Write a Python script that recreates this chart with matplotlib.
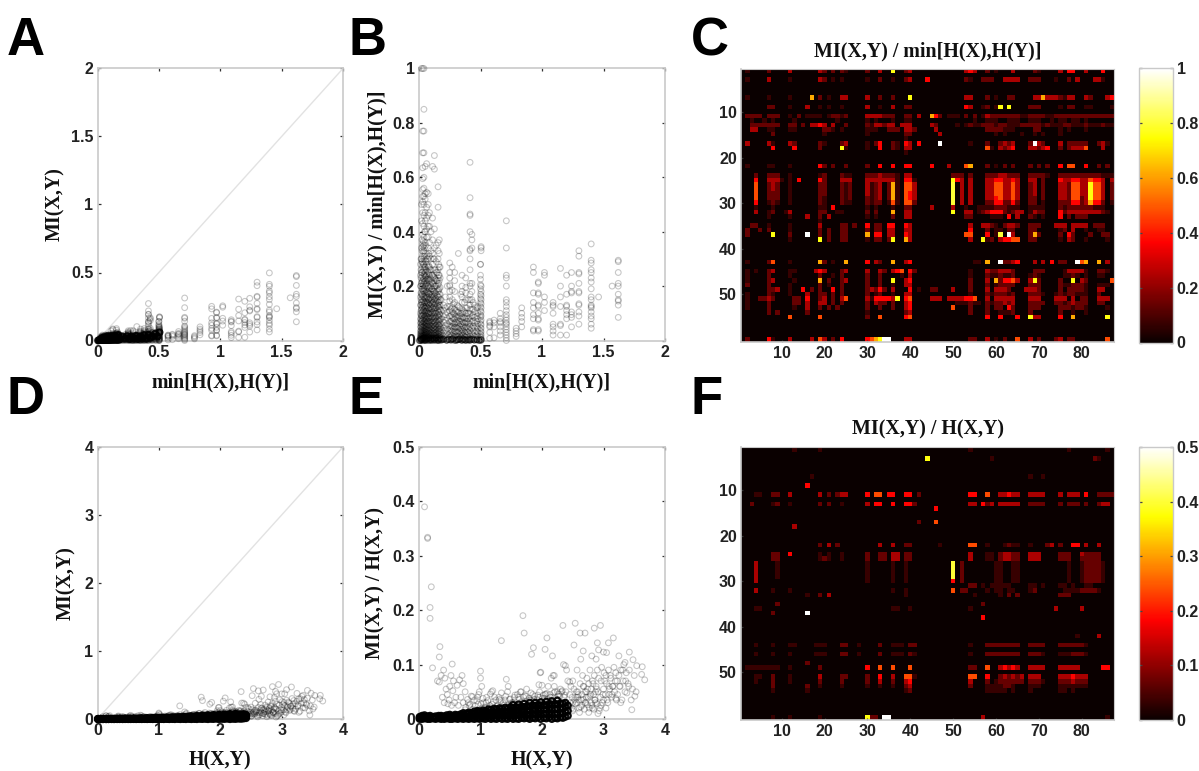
import numpy as np
import matplotlib
matplotlib.use("Agg")
import matplotlib.pyplot as plt

W, H = 1199, 771

# ---- panel C: colour levels (hex digit index into LEVELS), one string per row, 10 columns per block
c_rows = [
"0100002000 0300000032 0202100002 0030070023 0000000000 0034300201 0003000021 0000304400 3000400",
"",
"0100003000 0100000032 0101000001 0020010023 0004000000 0021002220 0333300222 0001002030 0033100",
"",
"",
"",
"0100001000 0100006020 1003300003 0020020007 0000000000 0033000201 0022000033 6333213300 3200034",
"",
"0000002200 0100030010 1001000003 0010030022 0000000000 0043001201 7070000222 0000102200 1100001",
"",
"0222202220 0102011110 1221200003 3332220022 0300642011 1020201322 2222211222 2112222222 2222222",
"0010010100 0010000000 0010000001 0100010011 0000000000 0000100111 0011100111 0010110110 1000000",
"0022222220 0220203343 0300200002 1332330333 0000320000 1012112221 2211122222 1211122111 2111211",
"0033001100 0110000002 2101000001 1100222033 2000030000 0000000222 2111000022 0000101000 1000000",
"0000000200 0000000001 0000000001 0000000022 0000003000 0000000001 0100010010 1000100000 0000000",
"0000000000 0000000000 0000000000 0000000010",
"0300003100 0320000021 0002300001 0240021043 040000a000 0001000200 23230002a3 2000302222 2002310",
"0000000400 0040000020 0007100001 0040021033 0000000000 0000000510 3234000332 3400202333 5000300",
"0000000000 0000000000 0000000000 0000000010",
"",
"",
"0100001100 0100000042 0200200002 0040040044 0000400030 0056000201 0202000202 0200405500 4002020",
"",
"0002002220 0100000012 0002110002 2232221033 0000000002 2202000222 3322200222 2100222222 2222111",
"0004003331 0104000042 0003330003 3333331044 1000000007 4303000334 4334300330 2000433443 3544303",
"0005002320 0100000022 0002120003 1230261055 3000000008 0303000335 5335300230 2000332553 3755302",
"0005002320 0100000022 0002120003 1230261055 3000000008 0303000335 5335300230 2000332553 3755302",
"0005002220 0100000022 0002120003 1230261054 3000000008 0303000335 5335300230 2000332553 3755302",
"0005002220 0100000021 0002120002 1230261054 3000000008 0303000334 5335300220 2000332552 3755302",
"0004001210 0100000021 0002110002 1220151055 2000000008 0303000224 4224200220 1000222442 3644201",
"0001000100 0000000011 0400000001 0100010022 0000300003 0010011112 2211100111 1000212222 2211100",
"0003001200 1300000022 0011000002 0200060033 0000000007 0033012344 4212330132 2000423333 3333210",
"0000001000 0100030020 3000000001 0100020033 0000000000 0022000011 1040300210 1000402022 2000000",
"0000000000 0000000010",
"0022001000 0100000030 0002202004 0220440043 0000000000 0003003321 0233200222 0003330333 3022200",
"0200202000 0100000020 2002200002 0220330033 0000000000 0004000201 1022000220 0000120300 1001100",
"0200000700 02000a0020 2002200006 0440330043 0000000000 0055000401 80a3000262 0000204200 0200220",
"0000000000 0100000070 2002200001 0220270063 0000000000 0003007120 3445500220 0000103200 1000010",
"",
"",
"",
"",
"0100002500 0100000062 0100600004 0320060034 0000000000 0000110600 a223400030 30402200a5 6006030",
"",
"0101002300 0110000343 0002300003 0032034504 2000000000 0001000322 3332000022 2000013333 1002210",
"0100002000 0100000020 0102000002 0020000103 0000000000 0001000211 2112000121 0000011210 1001100",
"0100002300 0010000060 2002300002 0020070034 0000000000 0002000306 2445300372 0000200703 2000005",
"0200002000 0100000020 1002000002 0020010033 0000000000 0002000201 2222000222 0000211222 1001110",
"0000002230 0100402020 0402000002 3242030004 0100220003 0002000303 3320003332 0000202222 1003300",
"0100002100 0100030022 0202000002 0120010033 0000000000 0001000212 2212000222 1001212211 1002000",
"0100223200 0022040023 0203500003 1444437045 0000333033 3344500303 3333000333 0003330302 2003330",
"0100002000 0022030033 0202000002 0322020034 0000000000 1112110212 2323000222 2002212322 2002200",
"0100002000 0010030020 2020000002 0020020034 0000000005 0002000202 2042000222 0000222122 1000010",
"0000002020 0000020000 0000000001 0000000023 0000000000 0002000200 1112000200 0000200100 1000000",
"0000000000 0500000050 0000000002 0050000045 0000000000 0000000400 4000400733 0000400600 0000070",
"",
"",
"",
"",
"0200004100 0300003053 0204000004 567aa00033 0000000000 0002200301 0200500302 0002302200 0000050",
]

# ---- panel F: same level scale, top of the colour range is 0.5
f_rows = [
"0000000000 0010000010 0000000000 0000000000 0000000000 0001000000 0000000000 0000001000 0000010",
"",
"0000000000 0000000000 0000000000 0000000000 0007000000 0000000010 0000000000 0000000000 0021000",
"",
"",
"",
"0000000000 0000001000 0000000000 0000000000 0000000000 0000000000 0000000100 1000000000 0000000",
"",
"0000000000 0000040000 0000000000 0000000000",
"",
"0001100220 0300000030 2023300004 0550440044 0200000000 0004400500 3343300333 3000303330 4002222",
"",
"0020000120 0100000020 2001000003 0440040044 2000000000 0003304230 3333300222 2000202220 2002330",
"0000000000 0000000000 0000000000 0000000000 0000040000",
"",
"",
"0000000000 0000000000 0000000000 0000000000 0200050000",
"0000000000 0030000000",
"",
"",
"",
"0000000000 0000000020 3020000000 0030030022 0000001000 0005500100 0121100100 0230200440 3003000",
"",
"0000000220 0400000010 1001000002 0022033022 0000000000 0003000110 2332200333 0000222003 2222000",
"0000000220 0000000012 1001000002 0022033022 0000000000 0003000110 2332200333 0000222002 2222000",
"0003000010 0000000000 0000000001 0000010010 0000000008 0200000001 1001100000 0000001001 2222100",
"0003000010 0000000000 0000000001 0000010010 0000000008 0200000001 1001100000 0000001001 2222100",
"0003000010 0000000000 0000000001 0000010010 0000000008 0200000001 1001100000 0000001001 2222100",
"0003000010 0000000000 0000000001 0000010010 0000000008 0200000001 1001100000 0000001001 2222100",
"0003000000 0000000000 0000000001 0000010010 0000000004 0200000001 1001100000 0000001001 2222100",
"0000000000 0000000000 0000000000 0000000000 0000000000 0002201011 1110000110 1000110100 1100000",
"0003000100 0100000000 0000000000 0000010010 0000000005 0220000101 1011000120 0000011112 2221000",
"0000000000 0000010020 3000000000 0000000010 0000000000 0000100000 1020200000 0000222000 0000000",
"",
"0000000020 0000000000 0000000000 0000000000 0000000000 0000002000 0000000000 0000000000 0000000",
"0001100000 0000000000 0000000000 0000011001 0000000000 0001000000 0000000000 0003000003 0000000",
"0000000200 00000a0000 0000000000 0000000000",
"0000000000 0000000000 0000000000 0000000000 0000000000 0000004000",
"",
"",
"",
"0000000000 0000000000 0000000000 0000000000 0000000000 0000000000 0000000000 0000000010 0003000",
"",
"0001000100 0110000111 0002200100 0020011102 2000000000 0001000222 2222200222 2000222222 1000000",
"",
"0001000100 0100000111 0002200100 0020011102 1000000000 0001000222 2222200222 1000111222 1000000",
"",
"0000000000 0000020000",
"0111111110 0100000020 0000000004 0050050005 0000000000 0002200500 3434300333 3000333330 0000440",
"",
"0001100200 0100000030 0002200002 0040030055 1000000000 0005500400 2323230333 0000333433 3000000",
"0001000200 0100000020 0002000002 0030020034 0000000000 0003000201 2222220222 1000222322 2000000",
"0000000200 0000020010 0001000001 0010010023 0000000000 0002000111 1221000111 0000111111 1000000",
"0000000100 0000010000 0000000000 0000000012 0000000000 0000000111 1101000100 0000110100 0000000",
"",
"",
"",
"",
"",
"0000000100 0100000010 0000000007 220aa00000 0000000000 0000003000 0000000000 0000000000 0000010",
]
LEVELS = [0, 0.07, 0.14, 0.24, 0.37, 0.48, 0.62, 0.76, 0.8, 0.9, 1.0]

# ---- panel B: minimum-entropy columns and the ratio values seen in each
b_cols_x = [0.012, 0.02, 0.03, 0.04, 0.05, 0.062, 0.075, 0.085, 0.098, 0.11, 0.125, 0.14, 0.155, 0.165, 0.18,
            0.25, 0.27, 0.29, 0.32, 0.35, 0.38, 0.415, 0.43, 0.50, 0.505, 0.575, 0.61, 0.66, 0.71, 0.79, 0.835,
            0.93, 0.97, 1.02, 1.09, 1.15, 1.2, 1.24, 1.3, 1.40, 1.46, 1.57, 1.62,
            0.016, 0.025, 0.035, 0.045, 0.056, 0.068, 0.08, 0.092, 0.104, 0.118, 0.132, 0.148, 0.16, 0.172,
            0.2, 0.215, 0.23, 0.26, 0.28, 0.3, 0.31, 0.33, 0.34, 0.36, 0.37, 0.39, 0.4, 0.44, 0.45, 0.47, 0.48]
b_cols_y = [
 [0.0, 0.002, 0.005, 0.008, 0.012, 0.018, 0.025, 0.035, 0.05, 0.065, 0.08, 0.1, 0.13, 0.16, 0.2, 0.24, 0.28],
 [0.0, 0.003, 0.006, 0.01, 0.015, 0.022, 0.03, 0.04, 0.055, 0.07, 0.09, 0.115, 0.14, 0.17, 0.21, 0.25, 0.3, 0.34, 0.44, 0.5, 1.0],
 [0.0, 0.004, 0.009, 0.014, 0.02, 0.028, 0.038, 0.05, 0.06, 0.075, 0.09, 0.105, 0.12, 0.135, 0.15, 0.17, 0.185, 0.2, 0.22, 0.235, 0.27, 0.285, 0.31, 0.345, 0.355, 0.39, 0.43, 0.47, 0.51, 0.53, 0.555, 0.595, 0.635, 0.69, 0.77, 1.0],
 [0.0, 0.003, 0.007, 0.012, 0.019, 0.026, 0.034, 0.045, 0.056, 0.068, 0.082, 0.095, 0.11, 0.125, 0.14, 0.16, 0.18, 0.19, 0.21, 0.225, 0.245, 0.26, 0.28, 0.3, 0.33, 0.35, 0.38, 0.42, 0.46, 0.5, 0.53, 0.56, 0.6, 0.69, 0.77, 0.85, 1.0],
 [0.0, 0.005, 0.011, 0.017, 0.024, 0.032, 0.042, 0.053, 0.066, 0.08, 0.092, 0.107, 0.12, 0.14, 0.155, 0.175, 0.2, 0.22, 0.235, 0.25, 0.27, 0.295, 0.32, 0.36, 0.4, 0.44, 0.47, 0.52, 0.54, 0.64],
 [0.0, 0.006, 0.013, 0.021, 0.03, 0.04, 0.052, 0.063, 0.078, 0.09, 0.108, 0.125, 0.14, 0.16, 0.18, 0.21, 0.225, 0.24, 0.28, 0.31, 0.38, 0.41, 0.45, 0.49, 0.545, 0.65],
 [0.0, 0.004, 0.01, 0.016, 0.025, 0.036, 0.047, 0.06, 0.072, 0.085, 0.1, 0.118, 0.135, 0.15, 0.175, 0.2, 0.225, 0.25, 0.27, 0.3, 0.34, 0.38, 0.42, 0.46, 0.5, 0.54],
 [0.0, 0.007, 0.015, 0.023, 0.033, 0.045, 0.058, 0.07, 0.083, 0.098, 0.112, 0.13, 0.148, 0.17, 0.19, 0.215, 0.24, 0.27, 0.31, 0.36, 0.42, 0.47],
 [0.0, 0.005, 0.012, 0.02, 0.028, 0.038, 0.05, 0.065, 0.08, 0.095, 0.11, 0.125, 0.145, 0.16, 0.18, 0.2, 0.225, 0.26, 0.3, 0.33, 0.4],
 [0.0, 0.006, 0.014, 0.024, 0.034, 0.046, 0.06, 0.073, 0.088, 0.104, 0.12, 0.14, 0.155, 0.17, 0.19, 0.21, 0.24, 0.28, 0.32, 0.37, 0.45, 0.64],
 [0.0, 0.004, 0.009, 0.018, 0.027, 0.04, 0.052, 0.067, 0.082, 0.1, 0.115, 0.13, 0.15, 0.165, 0.18, 0.2, 0.23, 0.26, 0.3, 0.34, 0.41, 0.63, 0.68],
 [0.0, 0.005, 0.012, 0.02, 0.03, 0.043, 0.057, 0.07, 0.085, 0.1, 0.12, 0.135, 0.15, 0.17, 0.2, 0.22, 0.25, 0.29, 0.35],
 [0.0, 0.007, 0.015, 0.025, 0.035, 0.048, 0.06, 0.075, 0.09, 0.105, 0.125, 0.14, 0.16, 0.18, 0.205, 0.23, 0.26, 0.3, 0.33, 0.36, 0.49, 0.565],
 [0.0, 0.006, 0.013, 0.022, 0.032, 0.044, 0.055, 0.07, 0.083, 0.097, 0.115, 0.13, 0.145, 0.17, 0.19, 0.22, 0.24, 0.27, 0.32, 0.37],
 [0.0, 0.004, 0.01, 0.018, 0.028, 0.04, 0.055, 0.08, 0.11, 0.15],
 [0.002, 0.012, 0.025, 0.04, 0.055, 0.07, 0.09, 0.11, 0.125, 0.145, 0.16, 0.18, 0.2, 0.205, 0.23, 0.25, 0.285],
 [0.005, 0.018, 0.033, 0.05, 0.065, 0.085, 0.105, 0.12, 0.15, 0.185, 0.27],
 [0.0, 0.01, 0.022, 0.036, 0.05, 0.062, 0.078, 0.095, 0.115, 0.14, 0.18, 0.22, 0.25],
 [0.003, 0.015, 0.03, 0.045, 0.06, 0.075, 0.09, 0.105, 0.125, 0.32],
 [0.0, 0.008, 0.018, 0.028, 0.04, 0.055, 0.07, 0.085, 0.1, 0.115, 0.14, 0.16, 0.18, 0.2, 0.24],
 [0.002, 0.012, 0.024, 0.038, 0.05, 0.065, 0.08, 0.1, 0.12, 0.15, 0.175, 0.195, 0.23],
 [0.0, 0.006, 0.015, 0.025, 0.037, 0.05, 0.06, 0.072, 0.085, 0.1, 0.115, 0.13, 0.15, 0.17, 0.2, 0.21, 0.26, 0.3, 0.33, 0.335, 0.4, 0.46, 0.465, 0.525, 0.655],
 [0.01, 0.025, 0.045, 0.07, 0.09, 0.115, 0.15, 0.18, 0.21, 0.34, 0.37, 0.39],
 [0.0, 0.006, 0.014, 0.024, 0.035, 0.047, 0.06, 0.07, 0.085, 0.095, 0.11, 0.125, 0.14, 0.155, 0.17, 0.19, 0.205, 0.225, 0.24, 0.28, 0.28],
 [0.0, 0.01, 0.02, 0.032, 0.045, 0.058, 0.075, 0.09, 0.105, 0.12, 0.135, 0.15, 0.165, 0.18, 0.2, 0.33, 0.34, 0.345],
 [0.008, 0.03, 0.05, 0.055, 0.065, 0.07],
 [0.01, 0.05, 0.065, 0.075],
 [0.02, 0.035, 0.05, 0.065, 0.07, 0.08, 0.1],
 [0.0, 0.01, 0.02, 0.03, 0.04, 0.05, 0.06, 0.065, 0.075, 0.085, 0.095, 0.11, 0.125, 0.14, 0.15, 0.2, 0.23, 0.24, 0.34, 0.44],
 [0.015, 0.025, 0.035, 0.045],
 [0.05, 0.07, 0.085, 0.1, 0.12],
 [0.035, 0.04, 0.08, 0.095, 0.12, 0.14, 0.175, 0.25, 0.27],
 [0.035, 0.04, 0.075, 0.08, 0.1, 0.125, 0.13, 0.17, 0.175, 0.21, 0.215],
 [0.11, 0.14, 0.16, 0.24, 0.25],
 [0.02, 0.035, 0.05, 0.06, 0.1, 0.125, 0.13, 0.14],
 [0.02, 0.055, 0.06, 0.125, 0.16, 0.2, 0.265],
 [0.02, 0.08, 0.095, 0.11, 0.125, 0.13, 0.17, 0.24],
 [0.05, 0.085, 0.095, 0.105, 0.175, 0.18, 0.2, 0.25],
 [0.06, 0.09, 0.105, 0.13, 0.135, 0.175, 0.18, 0.21, 0.245, 0.25, 0.31, 0.33],
 [0.045, 0.06, 0.08, 0.09, 0.105, 0.12, 0.125, 0.13, 0.15, 0.16, 0.19, 0.215, 0.23, 0.25, 0.26, 0.285, 0.295, 0.355],
 [0.16],
 [0.2],
 [0.085, 0.13, 0.145, 0.15, 0.17, 0.2, 0.21, 0.25, 0.29, 0.295],
 [0.001, 0.008, 0.016, 0.026, 0.036, 0.05, 0.063, 0.077, 0.093, 0.11, 0.13, 0.15, 0.175, 0.2, 0.23, 0.26, 0.3],
 [0.002, 0.006, 0.013, 0.023, 0.033, 0.047, 0.061, 0.074, 0.09, 0.104, 0.122, 0.142, 0.165, 0.19, 0.215, 0.25, 0.29, 0.33, 0.37],
 [0.001, 0.007, 0.016, 0.027, 0.039, 0.052, 0.066, 0.081, 0.097, 0.112, 0.128, 0.146, 0.162, 0.182, 0.205, 0.228, 0.255, 0.28, 0.325, 0.365],
 [0.002, 0.009, 0.018, 0.029, 0.041, 0.055, 0.07, 0.086, 0.102, 0.118, 0.136, 0.153, 0.17, 0.195, 0.218, 0.24, 0.27, 0.31, 0.34, 0.4],
 [0.001, 0.008, 0.015, 0.026, 0.037, 0.05, 0.064, 0.079, 0.094, 0.11, 0.127, 0.145, 0.165, 0.185, 0.21, 0.235, 0.26, 0.29, 0.35],
 [0.002, 0.01, 0.02, 0.031, 0.044, 0.058, 0.072, 0.088, 0.103, 0.121, 0.14, 0.158, 0.178, 0.2, 0.225, 0.255, 0.3],
 [0.001, 0.007, 0.016, 0.027, 0.04, 0.054, 0.068, 0.084, 0.099, 0.117, 0.133, 0.152, 0.172, 0.193, 0.22, 0.245, 0.275, 0.32],
 [0.002, 0.009, 0.019, 0.03, 0.042, 0.056, 0.071, 0.086, 0.103, 0.12, 0.138, 0.156, 0.18, 0.205, 0.23, 0.26],
 [0.001, 0.008, 0.017, 0.028, 0.04, 0.053, 0.067, 0.082, 0.098, 0.116, 0.134, 0.15, 0.168, 0.19, 0.215, 0.24],
 [0.002, 0.01, 0.02, 0.032, 0.045, 0.059, 0.074, 0.09, 0.107, 0.124, 0.142, 0.16, 0.182, 0.21, 0.235, 0.3],
 [0.001, 0.008, 0.017, 0.028, 0.04, 0.053, 0.068, 0.084, 0.1, 0.118, 0.135, 0.155, 0.175, 0.2, 0.225, 0.26],
 [0.002, 0.01, 0.021, 0.033, 0.046, 0.06, 0.076, 0.092, 0.11, 0.128, 0.146, 0.165, 0.19, 0.22, 0.25],
 [0.001, 0.009, 0.018, 0.03, 0.042, 0.056, 0.071, 0.087, 0.105, 0.122, 0.14, 0.16, 0.185, 0.21, 0.24, 0.28],
 [0.002, 0.011, 0.022, 0.035, 0.048, 0.062, 0.078, 0.095, 0.113, 0.13, 0.15, 0.17, 0.195, 0.23, 0.27],
 [0.003, 0.016, 0.03, 0.047, 0.066, 0.087, 0.11, 0.13],
 [0.006, 0.02, 0.037, 0.055, 0.074, 0.095, 0.12, 0.16],
 [0.002, 0.014, 0.028, 0.043, 0.061, 0.083, 0.104, 0.125, 0.2],
 [0.005, 0.019, 0.036, 0.052, 0.07, 0.092, 0.116],
 [0.001, 0.013, 0.027, 0.044, 0.062, 0.08, 0.1, 0.135],
 [0.004, 0.017, 0.033, 0.05, 0.068, 0.088, 0.11],
 [0.002, 0.015, 0.03, 0.047, 0.065, 0.084, 0.103, 0.13],
 [0.006, 0.02, 0.035, 0.052, 0.07, 0.09, 0.12],
 [0.001, 0.012, 0.026, 0.042, 0.06, 0.08, 0.1, 0.17],
 [0.005, 0.018, 0.034, 0.05, 0.067, 0.085, 0.11],
 [0.002, 0.014, 0.029, 0.046, 0.063, 0.082, 0.105, 0.14],
 [0.004, 0.018, 0.033, 0.05, 0.07, 0.09, 0.12],
 [0.001, 0.013, 0.028, 0.045, 0.062, 0.08, 0.1, 0.15],
 [0.005, 0.02, 0.036, 0.053, 0.072, 0.093, 0.115, 0.14],
 [0.002, 0.015, 0.03, 0.047, 0.065, 0.085, 0.105, 0.13],
 [0.004, 0.018, 0.034, 0.052, 0.07, 0.09, 0.12],
 [0.001, 0.013, 0.028, 0.044, 0.06, 0.08, 0.1, 0.125],
]

# bottom band of panels A and B: x with MI (A) and ratio (B) near zero
foot_x = [0.005, 0.02, 0.035, 0.05, 0.065, 0.08, 0.095, 0.11, 0.125, 0.14, 0.155, 0.17, 0.185, 0.2, 0.225, 0.24, 0.26, 0.275,
          0.3, 0.315, 0.33, 0.35, 0.365, 0.38, 0.4, 0.415, 0.43, 0.45, 0.47, 0.49, 0.505]
foot_mi = [0.0, 0.005, 0.012, 0.02, 0.01, 0.03, 0.018, 0.033, 0.012, 0.035, 0.02, 0.04, 0.012, 0.03, 0.015, 0.032, 0.012, 0.028,
           0.015, 0.034, 0.012, 0.03, 0.016, 0.04, 0.014, 0.042, 0.02, 0.03, 0.05, 0.03, 0.06]
foot_ratio = [0.0, 0.004, 0.008, 0.002, 0.006, 0.01, 0.003, 0.007, 0.004, 0.009, 0.002, 0.006, 0.003, 0.005, 0.001, 0.004, 0.002, 0.006,
              0.001, 0.003, 0.005, 0.002, 0.004, 0.001, 0.003, 0.002, 0.004, 0.002, 0.003, 0.001, 0.003]

# ---- panel E: joint entropy and ratio
e_band_x = [0.01, 0.05, 0.09, 0.14, 0.18, 0.23, 0.27, 0.32, 0.36, 0.41, 0.45, 0.5, 0.54, 0.59, 0.63, 0.68, 0.72, 0.77, 0.81, 0.86,
            0.9, 0.95, 0.99, 1.04, 1.08, 1.13, 1.17, 1.22, 1.26, 1.31, 1.35, 1.4, 1.44, 1.49, 1.53, 1.58, 1.62, 1.67, 1.71, 1.76,
            1.8, 1.85, 1.89, 1.94, 1.98, 2.03, 2.07, 2.12, 2.16, 2.21, 2.25, 2.3, 2.34, 2.38, 2.42]
e_band_y = [
 [0, 0.002, 0.004], [0, 0.003, 0.006], [0.001, 0.004, 0.007], [0, 0.002, 0.005], [0, 0.003, 0.006], [0.001, 0.004], [0, 0.002, 0.005],
 [0.001, 0.003, 0.006], [0, 0.004, 0.006], [0, 0.002, 0.005], [0.001, 0.003, 0.007], [0, 0.004, 0.008], [0, 0.003, 0.006],
 [0.001, 0.005, 0.008], [0, 0.003, 0.007], [0.001, 0.005, 0.009], [0, 0.004, 0.008, 0.011], [0.001, 0.005, 0.01], [0, 0.004, 0.009, 0.012],
 [0.001, 0.006, 0.011], [0, 0.005, 0.01, 0.014], [0.001, 0.006, 0.011, 0.015], [0, 0.004, 0.009, 0.014], [0.001, 0.006, 0.012, 0.016],
 [0, 0.005, 0.01, 0.015], [0.002, 0.007, 0.012, 0.018], [0, 0.005, 0.011, 0.017], [0.001, 0.007, 0.013, 0.019], [0, 0.006, 0.012, 0.018],
 [0.002, 0.008, 0.014, 0.02], [0, 0.006, 0.013, 0.019], [0.001, 0.007, 0.014, 0.021], [0, 0.006, 0.012, 0.019], [0.002, 0.008, 0.015, 0.022],
 [0, 0.006, 0.013, 0.02, 0.026], [0.001, 0.008, 0.015, 0.022], [0, 0.007, 0.014, 0.021, 0.027], [0.002, 0.009, 0.016, 0.023],
 [0.001, 0.007, 0.014, 0.022, 0.028], [0.002, 0.009, 0.017, 0.024], [0, 0.007, 0.015, 0.023, 0.03], [0.002, 0.01, 0.017, 0.025],
 [0.001, 0.008, 0.016, 0.024, 0.03], [0.003, 0.011, 0.019, 0.026], [0, 0.008, 0.016, 0.025, 0.031], [0.002, 0.01, 0.018, 0.026],
 [0.001, 0.009, 0.017, 0.025, 0.032], [0.003, 0.011, 0.02, 0.028], [0, 0.008, 0.017, 0.026, 0.033], [0.002, 0.01, 0.019, 0.028],
 [0.001, 0.009, 0.018, 0.027, 0.034], [0.003, 0.011, 0.02, 0.029], [0.002, 0.01, 0.019, 0.028], [0.004, 0.013, 0.022, 0.03], [0.006, 0.015, 0.025],
]
e_x = [0.09, 0.14, 0.14, 0.2, 0.18, 0.18, 0.34, 0.33, 0.22, 0.54, 1.69, 1.71, 1.34, 1.86, 1.83, 2.08, 2.05, 2.17, 2.34, 2.54, 2.52,
       2.62, 2.7, 2.67, 2.85, 2.95, 2.9, 3.08, 3.16, 2.92, 3.0, 3.05, 2.88, 2.81, 3.25, 3.42, 3.35, 3.48, 3.54, 3.63, 3.62, 3.67, 3.46, 3.51, 3.38,
       0.3, 0.33, 0.36, 0.4, 0.42, 0.44, 0.38, 0.41, 0.46, 0.49, 0.5, 0.52, 0.55, 0.56, 0.58, 0.6, 0.62, 0.66, 0.7, 0.72, 0.68, 0.64, 0.53, 0.47, 0.75,
       0.8, 0.85, 0.9, 0.95, 1.0, 1.0, 1.02, 0.98, 1.05, 1.1, 1.15, 1.18, 1.2, 1.25, 1.3, 1.42, 1.45, 1.44, 1.4, 1.5, 1.55, 1.6, 1.65, 1.7, 1.75, 1.8,
       1.85, 1.9, 1.95, 2.0, 1.95, 1.97, 1.98, 2.05, 2.1, 2.15, 2.18, 2.2, 2.2, 2.25, 2.3, 2.35, 2.38, 2.4, 2.42, 2.45, 2.5,
       2.45, 2.47, 2.5, 2.52, 2.55, 2.57, 2.58, 2.6, 2.62, 2.63, 2.65, 2.66, 2.68, 2.7, 2.72, 2.73, 2.75, 2.76, 2.78, 2.8, 2.81, 2.82, 2.84, 2.85,
       2.87, 2.88, 2.9, 2.91, 2.92, 2.93, 2.95, 2.96, 2.97, 2.98, 3.0, 3.01, 3.03, 3.04, 3.05, 3.07, 3.08, 3.1, 3.12, 3.13, 3.15, 3.17, 3.18, 3.2, 3.22,
       3.23, 3.25, 3.27, 3.28, 3.3, 3.32, 3.33, 3.35, 3.37, 3.4, 3.42, 3.45, 3.47, 3.5, 3.53,
       2.48, 2.53, 2.56, 2.6, 2.64, 2.67, 2.71, 2.74, 2.77, 2.79, 2.83, 2.86, 2.89, 2.94, 2.99, 3.02, 3.06, 3.09, 3.11, 3.14, 3.19, 3.21, 3.26, 3.31, 3.36, 3.41,
       2.46, 2.5, 2.54, 2.58, 2.61, 2.65, 2.69, 2.72, 2.76, 2.8, 2.84, 2.87, 2.91, 2.96, 3.0, 3.04, 3.09, 3.15, 3.2, 3.28,
       0.72, 0.76, 0.79, 0.83, 0.87, 0.91, 0.94, 0.97, 1.01, 1.04, 1.07, 1.12, 1.16, 1.19, 1.23, 1.27, 1.31, 1.34, 1.37, 1.41, 1.46, 1.48, 1.52, 1.56, 1.59,
       1.63, 1.66, 1.69, 1.72, 1.77, 1.79, 1.82, 1.86, 1.88, 1.92, 1.96, 1.99, 2.02, 2.04, 2.08, 2.11, 2.13, 2.17, 2.21, 2.24, 2.27, 2.29, 2.33, 2.36, 2.39,
       0.75, 0.82, 0.88, 0.96, 1.03, 1.09, 1.14, 1.21, 1.28, 1.33, 1.39, 1.47, 1.53, 1.61, 1.68, 1.74, 1.81, 1.87, 1.93, 2.01, 2.06, 2.14, 2.19, 2.26, 2.32, 2.37,
       2.44, 2.49, 2.51, 2.56, 2.59, 2.63, 2.67, 2.7, 2.74, 2.78, 2.82, 2.86, 2.9]
e_y = [0.39, 0.334, 0.332, 0.243, 0.205, 0.185, 0.133, 0.114, 0.094, 0.101, 0.19, 0.158, 0.144, 0.131, 0.119, 0.149, 0.128, 0.116, 0.172, 0.176, 0.136,
       0.158, 0.158, 0.125, 0.167, 0.172, 0.14, 0.14, 0.149, 0.127, 0.123, 0.122, 0.11, 0.116, 0.116, 0.123, 0.104, 0.109, 0.098, 0.096, 0.082, 0.072, 0.017, 0.042, 0.048,
       0.07, 0.068, 0.08, 0.09, 0.075, 0.055, 0.04, 0.03, 0.045, 0.035, 0.06, 0.08, 0.052, 0.07, 0.03, 0.04, 0.062, 0.072, 0.08, 0.065, 0.04, 0.025, 0.025, 0.028, 0.05,
       0.03, 0.042, 0.035, 0.04, 0.088, 0.075, 0.06, 0.05, 0.03, 0.04, 0.025, 0.05, 0.052, 0.035, 0.04, 0.073, 0.06, 0.05, 0.035, 0.03, 0.04, 0.045, 0.05, 0.04, 0.055, 0.035,
       0.045, 0.03, 0.04, 0.062, 0.063, 0.085, 0.086, 0.045, 0.06, 0.075, 0.08, 0.08, 0.06, 0.05, 0.055, 0.1, 0.098, 0.09, 0.07, 0.068, 0.07,
       0.045, 0.06, 0.03, 0.055, 0.04, 0.09, 0.05, 0.035, 0.065, 0.11, 0.045, 0.08, 0.06, 0.03, 0.05, 0.075, 0.04, 0.065, 0.09, 0.055, 0.025, 0.07, 0.045, 0.08,
       0.03, 0.06, 0.09, 0.05, 0.075, 0.015, 0.04, 0.07, 0.095, 0.03, 0.055, 0.085, 0.045, 0.08, 0.065, 0.03, 0.09, 0.055, 0.075, 0.04, 0.06, 0.095, 0.05, 0.085, 0.07,
       0.045, 0.08, 0.06, 0.09, 0.035, 0.07, 0.1, 0.05, 0.085, 0.065, 0.09, 0.035, 0.055, 0.08, 0.05,
       0.02, 0.035, 0.05, 0.02, 0.035, 0.06, 0.03, 0.055, 0.02, 0.045, 0.065, 0.035, 0.055, 0.02, 0.045, 0.07, 0.035, 0.06, 0.08, 0.045, 0.07, 0.035, 0.06, 0.09, 0.07, 0.06,
       0.03, 0.015, 0.028, 0.04, 0.012, 0.025, 0.018, 0.04, 0.012, 0.03, 0.018, 0.05, 0.01, 0.025, 0.035, 0.02, 0.045, 0.06, 0.038, 0.03,
       0.03, 0.022, 0.036, 0.027, 0.041, 0.024, 0.033, 0.045, 0.028, 0.038, 0.022, 0.034, 0.046, 0.027, 0.04, 0.024, 0.036, 0.048, 0.03, 0.042, 0.025, 0.037, 0.03, 0.044, 0.026,
       0.036, 0.05, 0.03, 0.043, 0.027, 0.038, 0.048, 0.032, 0.042, 0.036, 0.05, 0.032, 0.044, 0.038, 0.047, 0.034, 0.045, 0.04, 0.05, 0.036, 0.046, 0.042, 0.052, 0.04, 0.05,
       0.017, 0.025, 0.018, 0.027, 0.02, 0.03, 0.022, 0.032, 0.024, 0.034, 0.026, 0.036, 0.03, 0.04, 0.032, 0.042, 0.034, 0.036, 0.044, 0.038, 0.046, 0.04, 0.048, 0.042, 0.05, 0.044,
       0.022, 0.04, 0.018, 0.03, 0.045, 0.022, 0.036, 0.05, 0.026, 0.042, 0.02, 0.035, 0.028]

a_ticks = [0, 0.5, 1, 1.5, 2]
b_yticks = [0, 0.2, 0.4, 0.6, 0.8, 1]
d_ticks = [0, 1, 2, 3, 4]
e_yticks = [0, 0.1, 0.2, 0.3, 0.4, 0.5]
hm_xticks = [10, 20, 30, 40, 50, 60, 70, 80]
hm_yticks = [10, 20, 30, 40, 50]
cb1_ticks = [0, 0.2, 0.4, 0.6, 0.8, 1]
cb2_ticks = [0, 0.1, 0.2, 0.3, 0.4, 0.5]

SANS = "Liberation Sans"
SERIF = "Liberation Serif"
GREY = "#c9c9c9"
TICKFS = 11.5
LABFS = 14.4


def grid(rows, top):
    out = []
    for r in rows:
        s = r.replace(" ", "").ljust(87, "0")[:87]
        out.append([LEVELS[int(ch, 16)] * top for ch in s])
    return np.array(out)


def rect(l, t, r, b):
    return [l / W, 1 - b / H, (r - l) / W, (b - t) / H]


def fmt(v):
    return f"{v:g}"


def style(ax, xt, yt, size=TICKFS):
    for sp in ax.spines.values():
        sp.set_color(GREY)
        sp.set_linewidth(1.2)
    ax.set_xticks(xt, [fmt(v) for v in xt])
    ax.set_yticks(yt, [fmt(v) for v in yt])
    ax.tick_params(direction="in", length=2.2, width=0.9, color="#333333",
                   top=True, right=True, pad=3, labelcolor="#222222")
    for t in ax.get_xticklabels() + ax.get_yticklabels():
        t.set_fontfamily(SANS)
        t.set_fontweight("bold")
        t.set_fontsize(size)


def scatter(ax, x, y, alpha=0.22, lw=0.8):
    ax.scatter(x, y, s=17, facecolors="none", edgecolors="black", linewidths=lw,
               alpha=alpha, clip_on=False, zorder=3)


def label(ax, xl, yl, ylx):
    ax.set_xlabel(xl, family=SERIF, weight="bold", fontsize=LABFS, labelpad=9, color="#111111")
    ax.set_ylabel(yl, family=SERIF, weight="bold", fontsize=LABFS, color="#111111")
    ax.yaxis.set_label_coords(ylx, 0.5)


fig = plt.figure(figsize=(W / 100, H / 100), dpi=100)

bx = np.concatenate([[x] * len(ys) for x, ys in zip(b_cols_x, b_cols_y)])
by = np.concatenate(b_cols_y)
ex = np.array(e_x)
ey = np.array(e_y)
bandx = np.concatenate([[x] * len(ys) for x, ys in zip(e_band_x, e_band_y)])
bandy = np.concatenate(e_band_y)

# A: MI against min entropy
axA = fig.add_axes(rect(97.5, 68.5, 343, 340.5))
axA.plot([0, 2], [0, 2], color="#e2e2e2", lw=1)
scatter(axA, bx, by * bx)
scatter(axA, foot_x, foot_mi, alpha=0.9, lw=1.6)
axA.set_xlim(0, 2); axA.set_ylim(0, 2)
style(axA, a_ticks, a_ticks)
label(axA, "min[H(X),H(Y)]", "MI(X,Y)", -0.13)

# B: normalised by min entropy
axB = fig.add_axes(rect(419, 68.5, 665, 340.5))
scatter(axB, bx, by)
scatter(axB, foot_x, foot_ratio, alpha=0.6, lw=1.0)
axB.set_xlim(0, 2); axB.set_ylim(0, 1)
style(axB, a_ticks, b_yticks)
label(axB, "min[H(X),H(Y)]", "MI(X,Y) / min[H(X),H(Y)]", -0.13)

# D: MI against joint entropy
axD = fig.add_axes(rect(97.5, 447, 343, 719))
axD.plot([0, 4], [0, 4], color="#e2e2e2", lw=1)
scatter(axD, bandx, bandy * bandx, alpha=0.95, lw=1.8)
scatter(axD, ex, ey * ex)
axD.set_xlim(0, 4); axD.set_ylim(0, 4)
style(axD, d_ticks, d_ticks)
label(axD, "H(X,Y)", "MI(X,Y)", -0.087)

# E: normalised by joint entropy
axE = fig.add_axes(rect(419, 447, 665, 719))
scatter(axE, ex, ey)
scatter(axE, bandx, bandy, alpha=0.95, lw=1.6)
axE.set_xlim(0, 4); axE.set_ylim(0, 0.5)
style(axE, d_ticks, e_yticks)
label(axE, "H(X,Y)", "MI(X,Y) / H(X,Y)", -0.135)


def heat(box, cbox, rows, top, title, cticks):
    ax = fig.add_axes(rect(*box))
    im = ax.imshow(grid(rows, top), cmap="hot", vmin=0, vmax=top, aspect="auto",
                   interpolation="nearest",
                   extent=[0.5, 87.5, 60.5, 0.5])
    style(ax, hm_xticks, hm_yticks)
    ax.tick_params(top=False, right=False, length=1.5)
    ax.spines["top"].set_linewidth(0.8)
    ax.spines["right"].set_linewidth(0.8)
    ax.set_title(title, family=SERIF, weight="bold", fontsize=LABFS, pad=9, color="#111111")
    cax = fig.add_axes(rect(*cbox))
    cb = fig.colorbar(im, cax=cax, ticks=cticks)
    cb.ax.set_yticklabels([fmt(v) for v in cticks], family=SANS, weight="bold", fontsize=TICKFS, color="#222222")
    cb.ax.tick_params(direction="in", length=2.2, width=0.9, color="#444444", left=True, right=True, pad=3)
    cb.outline.set_edgecolor(GREY)
    cb.outline.set_linewidth(1.0)


heat((741, 69, 1114, 342), (1139, 68.5, 1172.5, 342.5), c_rows, 1,
     "MI(X,Y) / min[H(X),H(Y)]", cb1_ticks)
heat((741, 447, 1114, 720), (1139, 447, 1172.5, 720), f_rows, 0.5,
     "MI(X,Y) / H(X,Y)", cb2_ticks)

for letter, px, py in [("A", 7, 55), ("B", 349, 55), ("C", 691, 55), ("D", 7, 414), ("E", 349, 414), ("F", 691, 414)]:
    fig.text(px / W, 1 - py / H, letter, family=SANS, weight="bold", fontsize=38, color="black", va="baseline")

fig.savefig("out.png", dpi=100)
